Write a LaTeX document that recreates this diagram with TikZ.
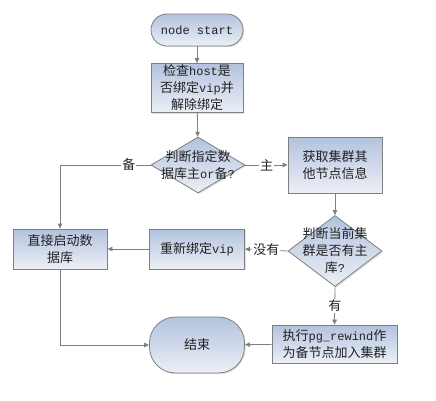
\documentclass[tikz,border=0pt]{standalone}
\usepackage{fontspec}
\setmainfont{Noto Sans CJK SC}
\newfontfamily\latfont{Liberation Mono}
\newcommand\mylat[1]{{\latfont\fontsize{12}{17}\selectfont #1}}
\usetikzlibrary{shapes.geometric,arrows.meta,shadows}
\definecolor{topc}{HTML}{B3C3DE}
\definecolor{botc}{HTML}{ECEFF6}
\definecolor{edgec}{HTML}{808080}
\definecolor{txtc}{HTML}{222222}
\tikzset{
  base/.style={draw=edgec, line width=0.8pt, top color=topc, bottom color=botc,
    font=\fontsize{13}{17}\selectfont, text=txtc, align=center, inner sep=0pt,
    drop shadow={shadow xshift=1.2pt, shadow yshift=-1.2pt, opacity=0.25}},
  boxn/.style={base, rectangle},
  termn/.style={base, rectangle, rounded corners=#1},
  dia/.style={base, diamond},
  txt/.style={font=\fontsize{13}{17}\selectfont, text=txtc, align=center, inner sep=0pt},
  conn/.style={draw=edgec, line width=0.8pt, -{Triangle[length=5pt,width=4.5pt]}},
  lbl/.style={fill=white, font=\fontsize{13}{15}\selectfont, text=txtc, inner sep=1pt}
}
\begin{document}
\begin{tikzpicture}[x=1pt,y=-1pt]
\useasboundingbox (0,0) rectangle (436,400);
\node[termn=16pt, minimum width=92pt, minimum height=32pt] (start) at (197,30) {\mylat{node start}};
\node[boxn, minimum width=92pt, minimum height=49pt] (b1) at (197,88) {检查\mylat{host}是\\否绑定\mylat{vip}并\\解除绑定};
\node[dia, minimum width=94pt, minimum height=56pt] (d1) at (198,165) {};
\node[txt] at (d1) {判断指定数\\据库主\mylat{or}备\mylat{?}};
\node[boxn, minimum width=94pt, minimum height=56pt] (b2) at (335,165) {获取集群其\\他节点信息};
\node[dia, minimum width=94pt, minimum height=71pt] (d2) at (335,251) {};
\node[txt] at (d2) {判断当前集\\群是否有主\\库\mylat{?}};
\node[boxn, minimum width=95pt, minimum height=40pt] (b3) at (197,249) {重新绑定\mylat{vip}};
\node[boxn, minimum width=94pt, minimum height=40pt] (b4) at (60,249) {直接启动数\\据库};
\node[termn=26pt, minimum width=95pt, minimum height=56pt] (end) at (197,345) {结束};
\node[boxn, minimum width=125pt, minimum height=38pt] (b5) at (334.5,344) {执行\mylat{pg\_rewind}作\\为备节点加入集群};

\draw[conn] (start) -- (b1);
\draw[conn] (b1) -- (d1);
\draw[conn] (d1.east) -- node[lbl]{主} (b2.west);
\draw[conn] (d1.west) -| node[lbl, pos=0.12]{备} (b4.north);
\draw[conn] (b2) -- (d2);
\draw[conn] (d2.west) -- node[lbl]{没有} (b3.east);
\draw[conn] (b3) -- (b4);
\draw[conn] (d2.south) -- node[lbl]{有} (b5.north);
\draw[conn] (b5) -- (end);
\draw[conn] (b4.south) |- (end.west);
\end{tikzpicture}
\end{document}
